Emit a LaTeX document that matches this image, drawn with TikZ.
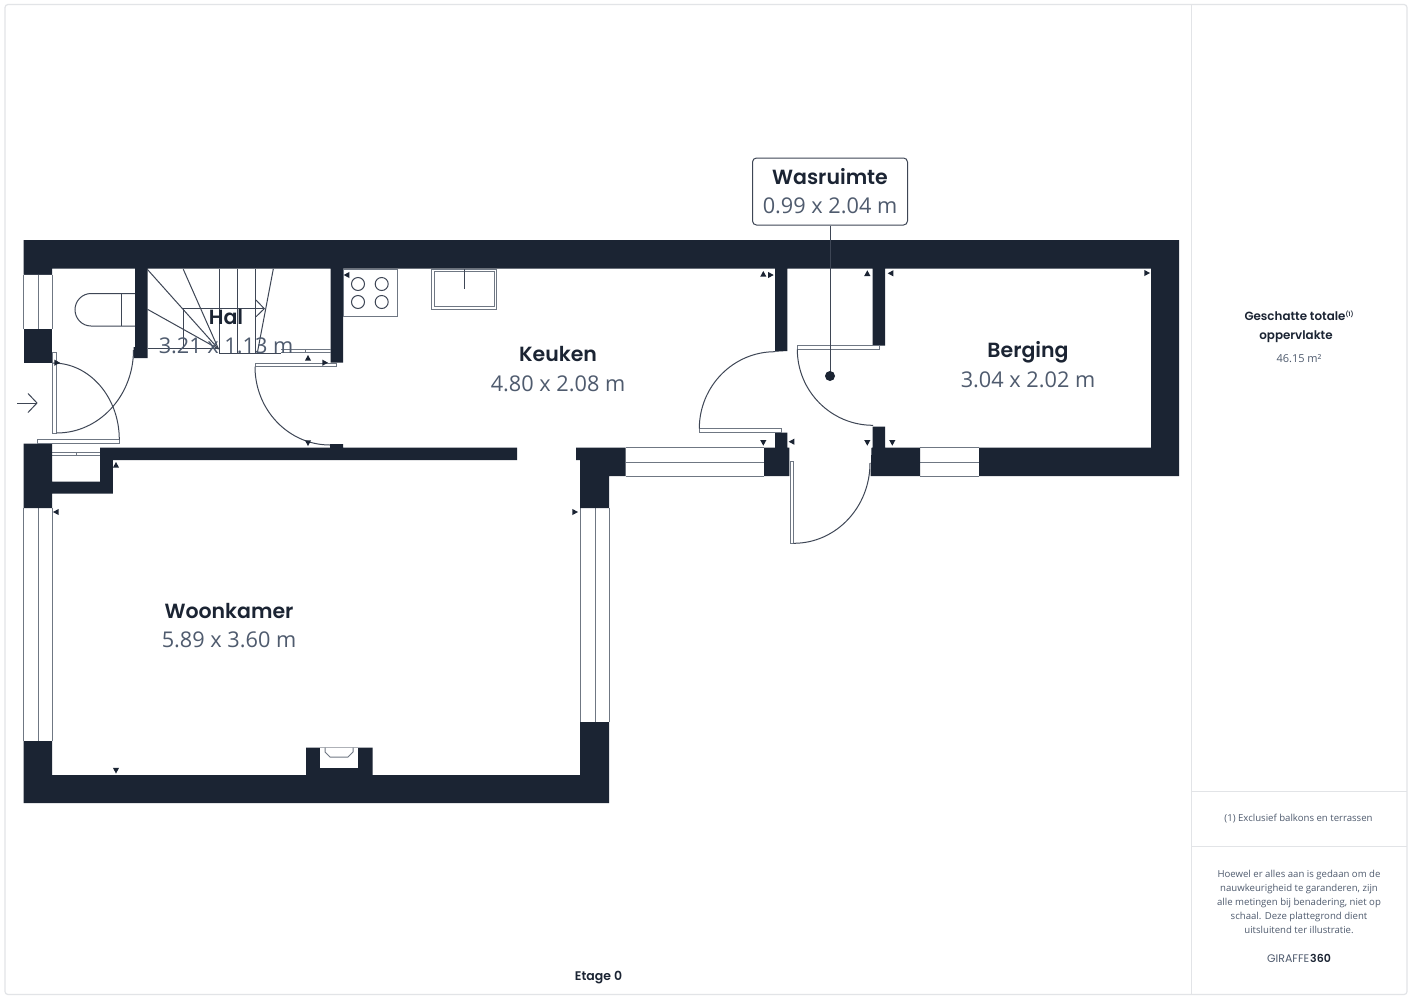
\documentclass[tikz,border=0pt]{standalone}
\usepackage{fontspec}
\setmainfont{Open Sans}
\newfontfamily\titlefont{Poppins SemiBold}
\newfontfamily\plainpop{Poppins}
\definecolor{wall}{HTML}{1B2433}
\definecolor{dimc}{HTML}{4F5B6E}
\definecolor{framec}{HTML}{E2E4E7}
\definecolor{linec}{HTML}{3E4655}
\definecolor{winc}{HTML}{6F7783}
\newcommand\triU[2]{\fill[wall,shift={(#1,#2)}] (-3.1,2.7)--(0,-3)--(3.1,2.7)--cycle;}
\newcommand\triD[2]{\fill[wall,shift={(#1,#2)}] (-3.1,-2.7)--(0,3)--(3.1,-2.7)--cycle;}
\newcommand\triL[2]{\fill[wall,shift={(#1,#2)}] (2.7,-3.1)--(-3,0)--(2.7,3.1)--cycle;}
\newcommand\triR[2]{\fill[wall,shift={(#1,#2)}] (-2.7,-3.1)--(3,0)--(-2.7,3.1)--cycle;}
\newcommand\arcHV[4]{\draw[arcl] (#1,#2) .. controls ({#1+0.5523*(#3-#1)},#2) and (#3,{#4-0.5523*(#4-#2)}) .. (#3,#4);}
\tikzset{
 wallfill/.style={fill=wall,draw=none},
 thin line/.style={draw=linec,line width=1pt},
 arcl/.style={draw=linec,line width=1pt},
 winl/.style={draw=winc,line width=1pt},
 leaf/.style={draw=winc,fill=white,line width=1pt},
 roomname/.style={inner sep=0,text=wall,font=\titlefont\fontsize{20.5}{24}\selectfont},
 roomdim/.style={inner sep=0,text=dimc,font=\fontsize{21.7}{26}\selectfont},
 sidehead/.style={inner sep=0,text=wall,font=\titlefont\fontsize{11.9}{14}\selectfont},
 sidetext/.style={inner sep=0,text=dimc,font=\fontsize{9.6}{14}\selectfont,align=center},
}
\begin{document}
\begin{tikzpicture}[x=1pt,y=-1pt]
\useasboundingbox (0,0) rectangle (1413,999);
\fill[white] (0,0) rectangle (1413,999);
% frame
\draw[framec,line width=1.2pt,rounded corners=3pt] (5,4.5) rectangle (1407,994.5);
\draw[framec,line width=1.2pt] (1191.5,5)--(1191.5,994);
\draw[framec,line width=1.2pt] (1191.5,791.5)--(1407,791.5);
\draw[framec,line width=1.2pt] (1191.5,846.5)--(1407,846.5);
% windows
\foreach \y in {274.5,329}{\draw[winl] (23.5,\y)--(52,\y);}
\foreach \x in {23.5,38,52}{\draw[winl] (\x,274.5)--(\x,329);}
\foreach \x in {23.5,38,52}{\draw[winl] (\x,508)--(\x,741);}
\foreach \x in {580.5,595,609}{\draw[winl] (\x,508)--(\x,722);}
\foreach \y in {447.7,462,476}{\draw[winl] (625.7,\y)--(764,\y);\draw[winl] (920,\y)--(979,\y);}
\draw[winl] (52,452.3)--(100,452.3);\draw[winl] (52,455.5)--(100,455.5);\draw[winl] (76,452.3)--(76,455.5);
% walls
\fill[wallfill] (23.5,240)--(1179,240)--(1179,476)--(979,476)--(979,447.7)--(1151,447.7)--(1151,268.7)--(885,268.7)--(885,345.7)--(872.7,345.7)--(872.7,268.7)--(787.3,268.7)--(787.3,351)--(775,351.7)--(775,268.7)--(343,268.7)--(343,362.7)--(330.5,362.7)--(330.5,268.7)--(147.5,268.7)--(147.5,358)--(133.5,358)--(133.5,347)--(135,347)--(135,268.7)--(52,268.7)--(52,274.5)--(23.5,274.5)--cycle;
\fill[wallfill] (23.5,329)--(52,329)--(52,362.5)--(23.5,362.5)--cycle;
\fill[wallfill] (23.5,443.5)--(52,443.5)--(52,481.7)--(100,481.7)--(100,447.7)--(330,447.7)--(330,444)--(343,444)--(343,447.7)--(517,447.7)--(517,460)--(112.8,460)--(112.8,493.7)--(52,493.7)--(52,508)--(23.5,508)--cycle;
\fill[wallfill] (576,447.7)--(625.7,447.7)--(625.7,476)--(609,476)--(609,508)--(580,508)--(580,460)--(576,460)--cycle;
\fill[wallfill] (23.5,741)--(52,741)--(52,775)--(306,775)--(306,747.5)--(372.7,747.5)--(372.7,775)--(580,775)--(580,722)--(609,722)--(609,803)--(23.5,803)--cycle;
\fill[white] (320,747.5) rectangle (358,768);
\draw[winl] (325,747.5)--(325,752)--(330,757)--(348,757)--(353,752)--(353,747.5);
\fill[wallfill] (775,432.7)--(787.3,432.7)--(787.3,447.7)--(789.3,447.7)--(789.3,476)--(764,476)--(764,447.7)--(775,447.7)--cycle;
\fill[wallfill] (872.7,426.5)--(885,426.5)--(885,447.7)--(920,447.7)--(920,476)--(870.5,476)--(871.5,447.7)--(872.7,447.7)--cycle;
% stairs
\foreach \a/\b in {147.3/269.3,183.3/269.3,147.5/309.3}{\draw[thin line] (\a,\b)--(218.5,349);}
\foreach \x in {219.3,237.3,255.3}{\draw[thin line] (\x,269)--(\x,353);}
\draw[thin line] (273.3,269)--(257.3,353);
\draw[thin line] (183.3,349)--(183.3,308.7)--(264.3,308.7);
\draw[thin line] (256,300)--(264.3,308.7)--(256,316.7);
\draw[thin line] (147.5,348.5)--(219,348.5);
\draw[thin line] (219.3,353)--(281,353);
\draw[winl] (281,349.5)--(330.5,349.5);\draw[winl] (281,352.5)--(330.5,352.5);
\draw[winl] (305,349.5)--(305,352.5);
% toilet
\draw[thin line] (135,293.5)--(91,293.5) .. controls (82,293.5) and (75,301) .. (75,309.7) .. controls (75,318.5) and (82,326) .. (91,326)--(135,326);
\draw[thin line] (121.7,293.5)--(121.7,326);
% hob and sink
\draw[winl] (343,269) rectangle (397,316);
\foreach \x in {358,381.7}{\foreach \y in {284,302}{\draw[thin line] (\x,\y) circle[radius=6.5];}}
\draw[winl] (431.7,269) rectangle (496.7,309.3);
\draw[winl] (434.3,271.7) rectangle (494.3,306.7);
\draw[thin line] (464,269)--(464,288.7);
% door leaves
\draw[leaf] (52.3,352) rectangle (56.7,433);
\draw[leaf] (37.7,439.5) rectangle (119.3,443.5);
\draw[leaf] (255,363.3) rectangle (336.7,366.7);
\draw[leaf] (699.3,428.7) rectangle (781.3,432.7);
\draw[leaf] (797.3,345.7) rectangle (879.3,349.3);
\draw[leaf] (790,461.7) rectangle (793.7,543.3);
% door arcs
\arcHV{56.7}{433}{133.5}{350}
\arcHV{53}{363}{119.3}{439.5}
\arcHV{330}{445}{255}{366.7}
\arcHV{775}{351.7}{699.3}{428.7}
\arcHV{873}{425.3}{797.3}{349.3}
\arcHV{793.7}{543.3}{870}{463}
% markers
\triR{57}{362.7}\triU{308}{358}\triR{325}{362.7}\triD{308}{443}\triU{116}{465}
\triL{346.7}{275}\triL{56}{512}\triR{575}{512}\triD{116}{770.5}
\triU{763.3}{274}\triR{770.7}{275}\triU{867.3}{273.3}\triL{890.7}{273.3}
\triD{763.3}{442.7}\triL{791.7}{441.7}\triD{867.3}{442.7}\triD{892.3}{442.7}\triR{1147}{273}
% entrance arrow
\coordinate (entryA) at (17,403);
\coordinate (entryB) at (37,403);
\draw[thin line] (entryA)--(entryB);
\draw[thin line] (28,393.5)--(37,403)--(28,412.5);
% leader and box
\node[draw=linec,line width=1pt,fill=white,rounded corners=4pt,minimum width=155pt,minimum height=67pt,inner sep=0] (wasbox) at (830,191.5) {};
\coordinate (wasdot) at (830,376);
\draw[thin line] (wasbox.south)--(wasdot);
\fill[wall] (wasdot) circle[radius=5];
% labels
\node[roomname] (wasname) at (830,177) {Wasruimte};
\node[roomdim] (wasdim) at (830,205.5) {0.99 x 2.04 m};
\node[roomname] (halname) at (226,317) {Hal};
\node[roomdim] (haldim) at (226,345.5) {3.21 x 1.13 m};
\node[roomname] (keuname) at (558,354) {Keuken};
\node[roomdim] (keudim) at (558,383.5) {4.80 x 2.08 m};
\node[roomname] (berg) at (1028,352.5) {Berging};
\node[roomdim] (bergdim) at (1028,380) {3.04 x 2.02 m};
\node[roomname] (woon) at (229,611) {Woonkamer};
\node[roomdim] (woondim) at (229,640) {5.89 x 3.60 m};
\node[sidehead] (geschat) at (1299,316) {Geschatte totale\raisebox{3.5pt}{\fontsize{6}{6}\selectfont(1)}};
\node[sidehead] (opper) at (1296,336.5) {oppervlakte};
\node[sidetext,font=\fontsize{11}{14}\selectfont] (opp) at (1299,358.5) {46.15 m²};
\node[sidetext] (excl) at (1298.5,818.5) {(1) Exclusief balkons en terrassen};
\node[sidetext] (para) at (1299,901.5) {Hoewel er alles aan is gedaan om de\\nauwkeurigheid te garanderen, zijn\\alle metingen bij benadering, niet op\\schaal. Deze plattegrond dient\\uitsluitend ter illustratie.};
\node[inner sep=0,font=\plainpop\fontsize{11}{13}\selectfont] (giraffe) at (1299,958) {\textcolor{dimc}{GIRAFFE}\kern1pt\textcolor{wall}{\titlefont 360}};
\node[inner sep=0,text=wall,font=\titlefont\fontsize{12.5}{15}\selectfont] (etage) at (598.5,978) {Etage 0};
\end{tikzpicture}
\end{document}
